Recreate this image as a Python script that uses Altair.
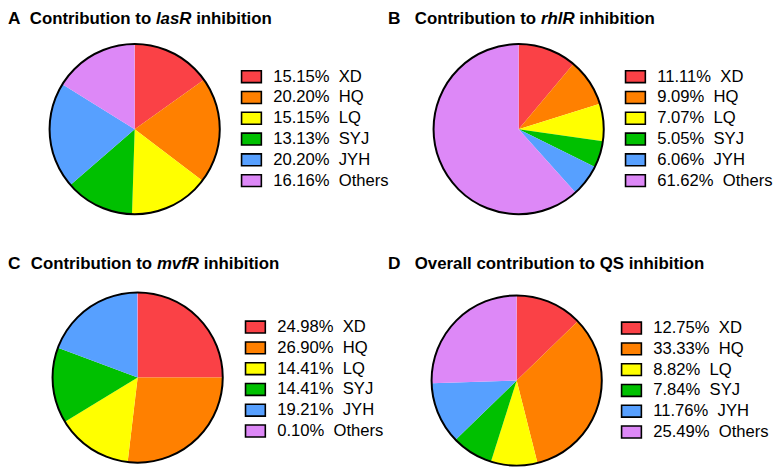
import math
import altair as alt
import pandas as pd

# ---- data ----
names = ["XD", "HQ", "LQ", "SYJ", "JYH", "Others"]
las_r = [15.15, 20.20, 15.15, 13.13, 20.20, 16.16]
rhl_r = [11.11, 9.09, 7.07, 5.05, 6.06, 61.62]
mvf_r = [24.98, 26.90, 14.41, 14.41, 19.21, 0.10]
overall = [12.75, 33.33, 8.82, 7.84, 11.76, 25.49]
colors = ["#FA4146", "#FF8000", "#FFFF00", "#00C000", "#57A0FF", "#DD88F7"]

letters = ["A", "B", "C", "D"]
title_pre = ["Contribution to", "Contribution to", "Contribution to",
             "Overall contribution to QS inhibition"]
title_gene = ["lasR", "rhlR", "mvfR", ""]
title_post = ["inhibition", "inhibition", "inhibition", ""]

FONT = "Liberation Sans"
TFS = 17
LFS = 16.8
RADIUS = 86

# Arial Bold advance widths (per 1000 em) for title layout
BOLD = {' ': 278, 'C': 722, 'R': 722, 'a': 556, 'b': 611, 'c': 556, 'e': 556,
        'f': 333, 'h': 611, 'i': 278, 'l': 278, 'm': 889, 'n': 611, 'o': 611,
        'r': 389, 's': 556, 't': 333, 'u': 611, 'v': 556}


def tw(s):
    return sum(BOLD.get(ch, 600) for ch in s) * TFS / 1000.0


def text_layer(s, x, y, italic=False, size=TFS):
    return alt.Chart(pd.DataFrame({"t": [s]})).mark_text(
        align="left", baseline="alphabetic", font=FONT, fontSize=size,
        fontWeight="bold", fontStyle="italic" if italic else "normal",
        color="black",
    ).encode(text="t:N", x=alt.value(x), y=alt.value(y))


def panel(i, values, cx, cy, lx, ly, lettx, tx, ty):
    labels = [f"{v:.2f}%\u00a0\u00a0{n}" for v, n in zip(values, names)]
    df = pd.DataFrame({"label": labels, "value": values,
                       "order": list(range(len(values)))})
    pie = alt.Chart(df).mark_arc(radius=RADIUS).encode(
        theta=alt.Theta("value:Q", stack=True),
        order=alt.Order("order:Q"),
        color=alt.Color(
            "label:N",
            scale=alt.Scale(domain=labels, range=colors),
            legend=alt.Legend(
                title=None, orient="none", legendX=lx, legendY=ly,
                symbolType="M-1,-0.6H1V0.6H-1Z", symbolSize=400,
                symbolStrokeColor="black", symbolStrokeWidth=1.6,
                symbolOpacity=1, symbolOffset=0,
                labelFont=FONT, labelFontSize=LFS, labelColor="black",
                labelOffset=11, labelLimit=400, rowPadding=0, padding=0,
            ),
        ),
        x=alt.value(cx), y=alt.value(cy),
    )
    outline = alt.Chart(pd.DataFrame({"k": [0]})).mark_arc(
        radius=RADIUS, theta=0, theta2=math.tau, fillOpacity=0,
        stroke="black", strokeWidth=2,
    ).encode(x=alt.value(cx), y=alt.value(cy))
    layers = [pie, outline, text_layer(letters[i], lettx, ty, size=17.5),
              text_layer(title_pre[i], tx, ty)]
    if title_gene[i]:
        gx = tx + tw(title_pre[i] + " ")
        layers.append(text_layer(title_gene[i], gx, ty, italic=True))
        px = gx + tw(title_gene[i] + " ")
        layers.append(text_layer(title_post[i], px, ty))
    return layers


layers = []
layers += panel(0, las_r, 128, 120, 235, 56, 0, 22, 14)
layers += panel(1, rhl_r, 516, 120, 623, 56, 384, 411, 14)
layers += panel(2, mvf_r, 131, 371, 239, 309, 0, 23, 261)
layers += panel(3, overall, 514, 374, 619, 310, 384, 411, 261)

chart = alt.layer(*layers).resolve_scale(color="independent").properties(
    width=773, height=463, padding=0, background="white",
    autosize=alt.AutoSizeParams(type="none"),
).configure_view(strokeWidth=0)

chart.save("out.html", embed_options={"renderer": "svg", "actions": False})
